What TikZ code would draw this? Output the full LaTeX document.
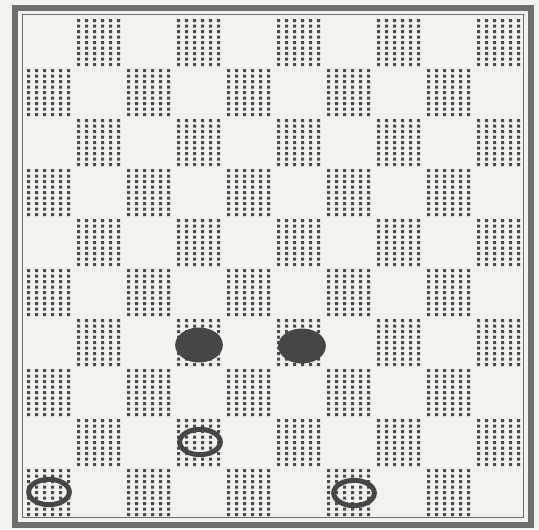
\documentclass[tikz,border=0pt]{standalone}
\usetikzlibrary{shapes.geometric}
\definecolor{paper}{HTML}{F3F2EE}
\definecolor{ink}{HTML}{4A4A4A}
\begin{document}
\begin{tikzpicture}[x=0.03cm, y=-0.03cm,
  frame/.style={draw=ink!80, line width=0.18cm},
  thinframe/.style={draw=ink!80, line width=0.03cm},
  dot/.style={fill=ink},
  blackman/.style={ellipse, fill=ink!95!black, draw=ink!95!black, line width=0.03cm,
                   minimum width=1.40cm, minimum height=1.02cm, inner sep=0pt},
  whiteman/.style={ellipse, draw=ink!95!black, line width=0.15cm,
                   minimum width=1.22cm, minimum height=0.76cm, inner sep=0pt},
]
\useasboundingbox (0,0) rectangle (539,529);
\fill[paper] (0,0) rectangle (539,529);

% frame of the board
\draw[frame] (15,7.5) rectangle (531,525);
\draw[thinframe] (22,14) rectangle (523,517);

% dotted dark squares
\foreach \r in {0,...,9} {
  \foreach \c in {0,...,9} {
    \pgfmathtruncatemacro{\odd}{mod(\r+\c,2)}
    \ifnum\odd=1
      \fill[dot] \foreach \i in {0,...,5} { \foreach \j in {0,...,8} {
        ({23+50*\c+4+8*\i},{16+50*\r+3+5.5*\j}) rectangle ++(3,3) } };
    \fi
  }
}

% pieces
\node[blackman] (black1) at (199,345) {};
\node[blackman] (black2) at (302,346) {};
\node[whiteman] (white1) at (200,442) {};
\node[whiteman] (white2) at (49,492) {};
\node[whiteman] (white3) at (354,493) {};
\end{tikzpicture}
\end{document}
